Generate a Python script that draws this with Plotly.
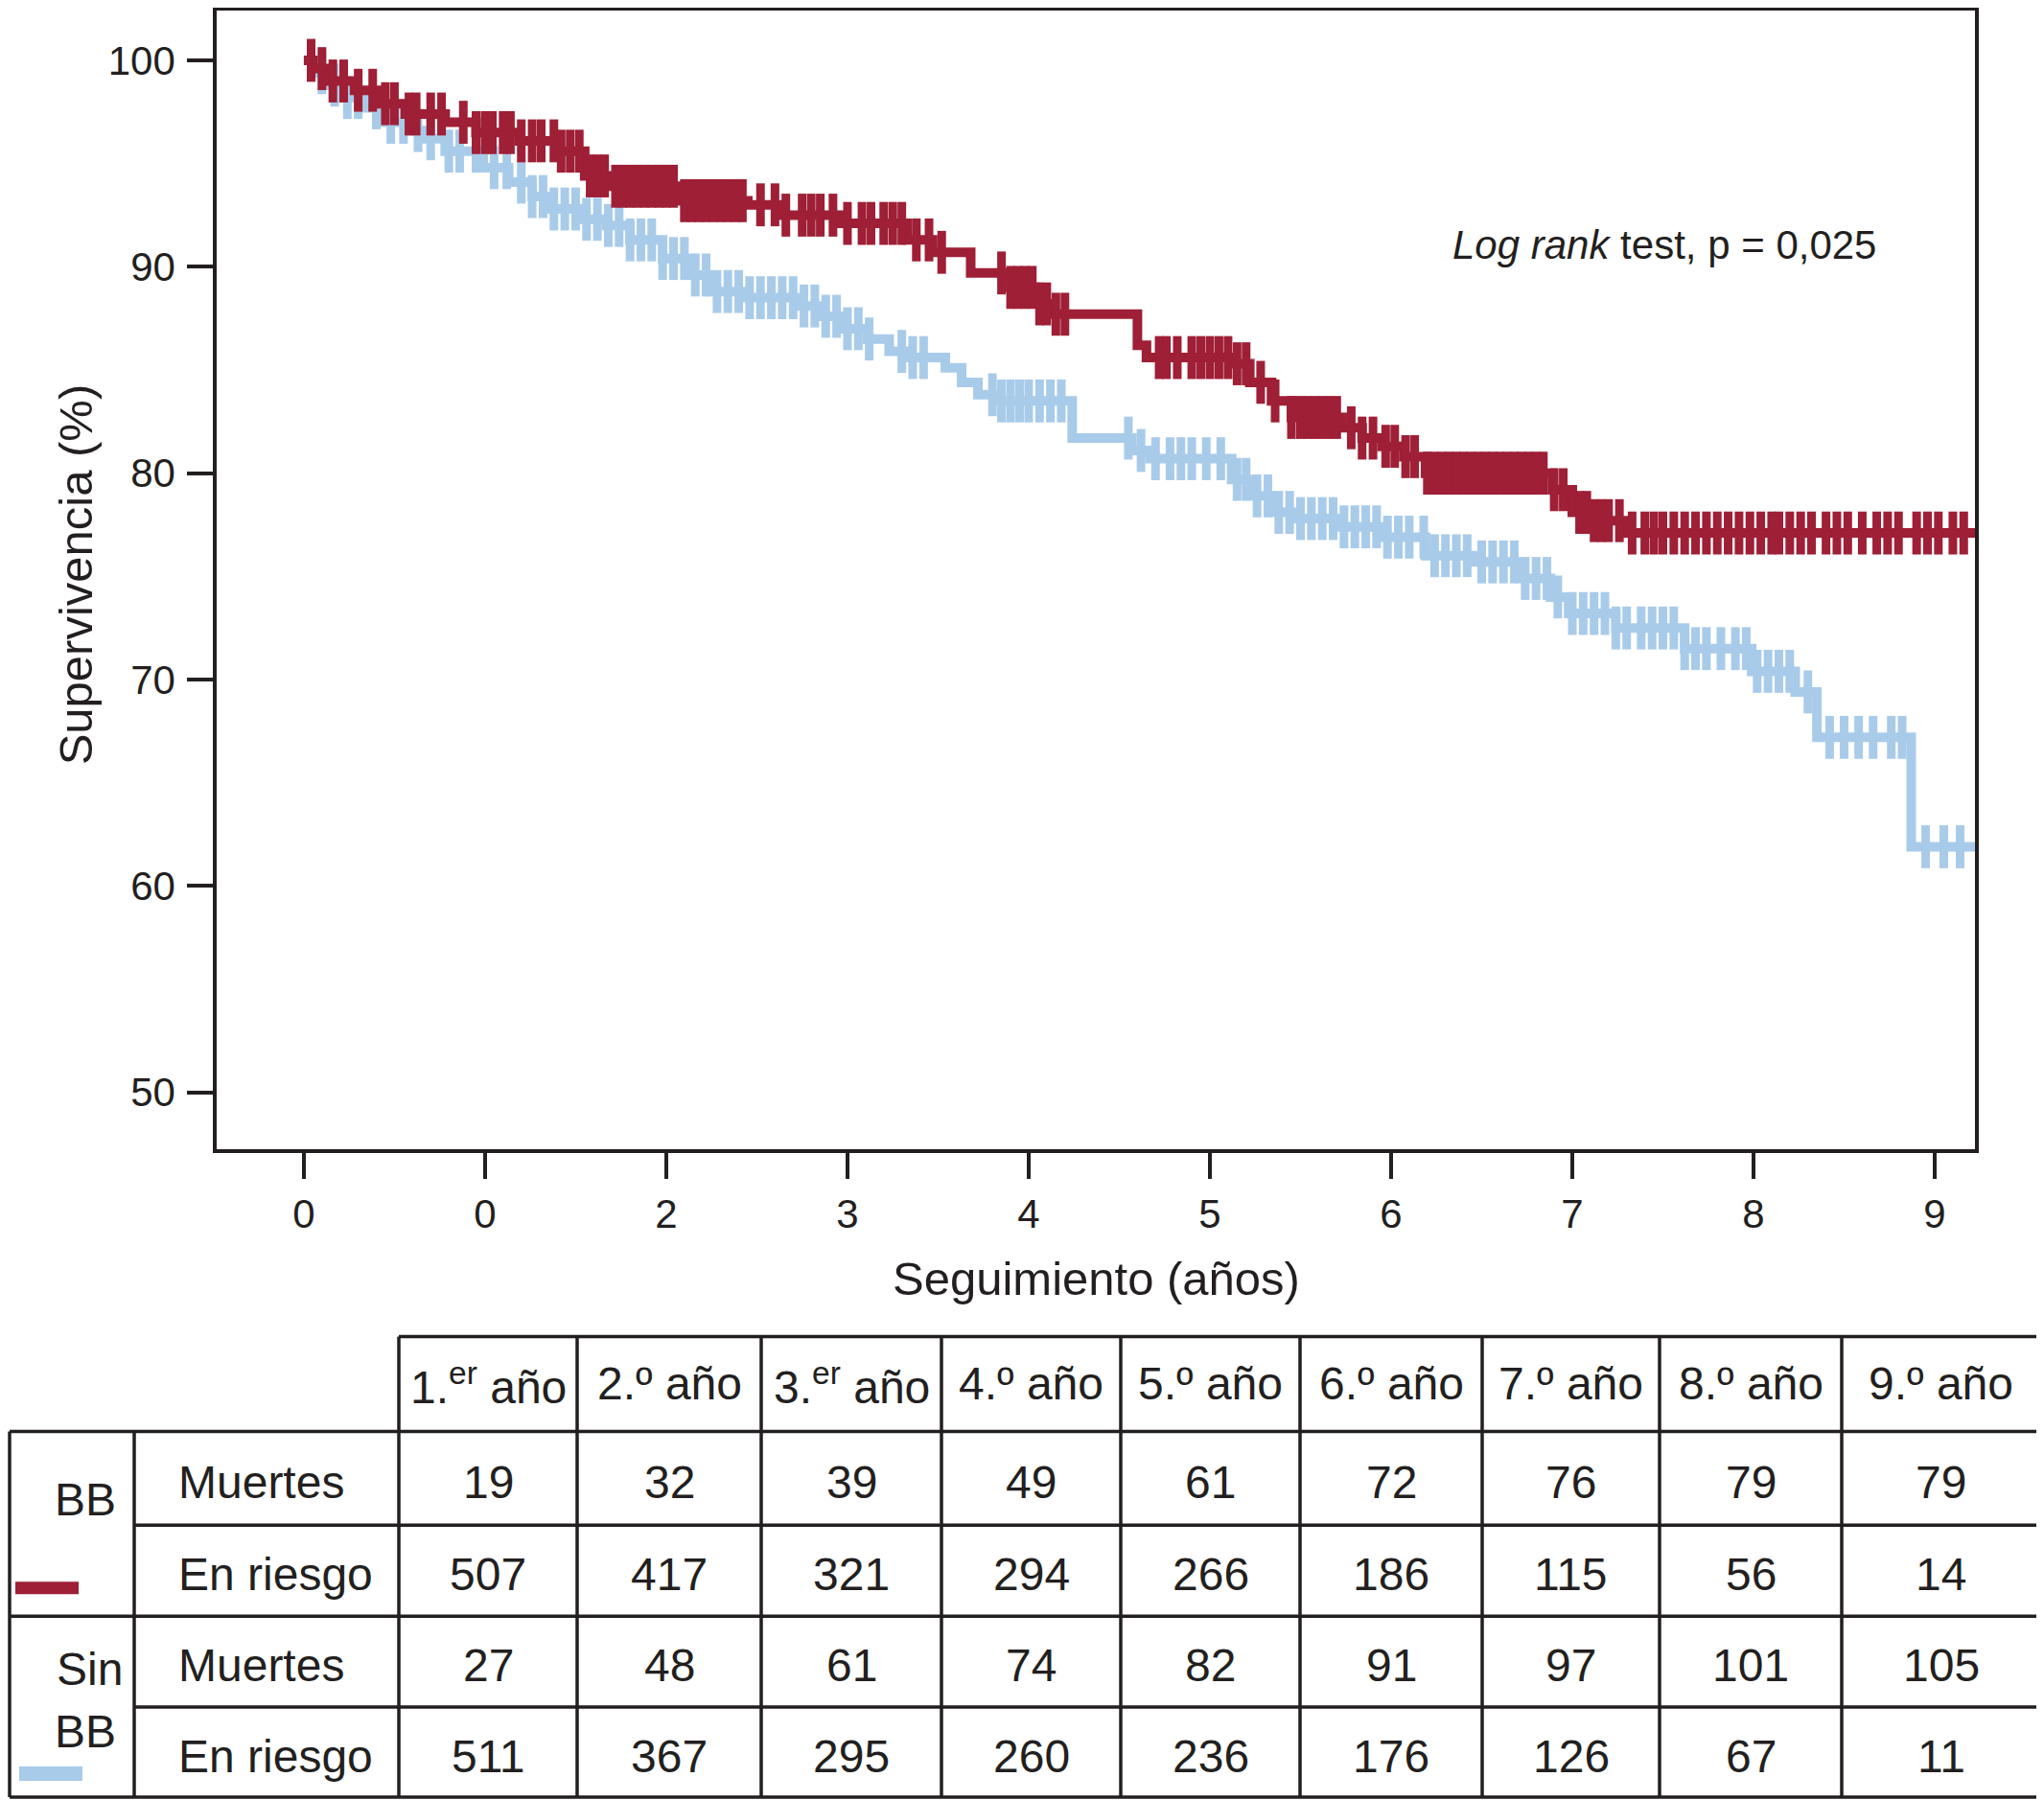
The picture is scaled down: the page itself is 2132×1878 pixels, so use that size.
import bisect
import plotly.graph_objects as go

# ---------------- data ----------------
# Kaplan-Meier steps (time in years, survival %)
bb_t = [0, 0.05, 0.12, 0.28, 0.42, 0.56, 0.78, 0.95, 1.19, 1.39, 1.55, 1.69, 2.06, 2.45, 2.64,
        2.96, 3.33, 3.47, 3.68, 3.9, 4.04, 4.14, 4.6, 4.65, 5.12, 5.22, 5.34, 5.45, 5.73, 5.84,
        5.95, 6.07, 6.19, 6.89, 7.0, 7.1, 7.29, 9.25]
bb_s = [100, 99.6, 99.0, 98.55, 97.9, 97.4, 97.0, 96.5, 96.1, 95.6, 94.4, 93.9, 93.2, 93.0, 92.5,
        92.1, 91.3, 90.7, 89.7, 89.0, 88.2, 87.7, 86.2, 85.6, 85.3, 84.4, 83.5, 82.7, 82.2, 81.7,
        81.3, 80.8, 80.0, 79.2, 78.1, 77.7, 77.1, 77.1]

sbb_t = [0, 0.06, 0.15, 0.21, 0.35, 0.45, 0.56, 0.67, 0.78, 0.99, 1.13, 1.26, 1.36, 1.53, 1.67,
         1.80, 1.98, 2.14, 2.24, 2.42, 2.73, 2.86, 2.98, 3.11, 3.23, 3.33, 3.54, 3.63, 3.72, 3.83,
         4.24, 4.57, 4.67, 5.12, 5.24, 5.34, 5.45, 5.71, 5.95, 6.19, 6.45, 6.71, 6.88, 6.98, 7.24,
         7.62, 7.99, 8.23, 8.35, 8.87, 9.26]
sbb_s = [100, 99.4, 98.8, 98.2, 97.7, 97.0, 96.6, 96.2, 95.6, 94.8, 94.1, 93.4, 92.8, 92.3, 92.0,
         91.3, 90.4, 89.6, 88.8, 88.5, 88.1, 87.6, 87.0, 86.5, 85.9, 85.6, 85.1, 84.4, 83.8, 83.5,
         81.7, 81.1, 80.7, 79.7, 78.9, 78.1, 77.8, 77.4, 76.9, 76.0, 75.7, 74.9, 74.0, 73.2, 72.5,
         71.5, 70.4, 69.4, 67.2, 61.9, 61.9]

# censored observations (years)
bb_cens = [0.04, 0.1, 0.16, 0.22, 0.3, 0.38, 0.45, 0.5, 0.58, 0.62, 0.7, 0.76, 0.88, 0.95, 1.0,
           1.04, 1.1, 1.14, 1.2, 1.26, 1.31, 1.38, 1.42, 1.47, 1.52, 1.58, 1.62, 1.66, 1.72, 1.76,
           1.8, 1.84, 1.88, 1.92, 1.96, 2.0, 2.04, 2.1, 2.14, 2.18, 2.22, 2.26, 2.3, 2.34, 2.38,
           2.42, 2.52, 2.6, 2.66, 2.75, 2.8, 2.85, 2.92, 3.0, 3.08, 3.13, 3.2, 3.25, 3.3, 3.38,
           3.45, 3.52, 3.85, 3.9, 3.94, 3.98, 4.02, 4.06, 4.1, 4.15, 4.2, 4.72, 4.76, 4.82, 4.9,
           4.95, 5.0, 5.05, 5.1, 5.15, 5.2, 5.28, 5.36, 5.45, 5.5, 5.54, 5.58, 5.62, 5.66, 5.7,
           5.78, 5.84, 5.9, 5.97, 6.02, 6.08, 6.13, 6.2, 6.24, 6.28, 6.32, 6.36, 6.4, 6.44, 6.48,
           6.52, 6.56, 6.6, 6.64, 6.68, 6.72, 6.76, 6.8, 6.84, 6.9, 6.95, 7.04, 7.08, 7.12, 7.16,
           7.2, 7.26, 7.33, 7.4, 7.45, 7.5, 7.56, 7.62, 7.68, 7.74, 7.8, 7.86, 7.92, 7.98, 8.04,
           8.1, 8.14, 8.2, 8.26, 8.32, 8.4, 8.46, 8.52, 8.6, 8.68, 8.74, 8.8, 8.9, 8.96, 9.02,
           9.1, 9.16]
sbb_cens = [0.1, 0.17, 0.24, 0.3, 0.4, 0.48, 0.55, 0.63, 0.7, 0.8, 0.86, 0.95, 1.05, 1.12, 1.2,
            1.26, 1.32, 1.38, 1.44, 1.5, 1.56, 1.62, 1.68, 1.74, 1.8, 1.86, 1.92, 1.98, 2.04, 2.1,
            2.16, 2.22, 2.28, 2.34, 2.4, 2.46, 2.52, 2.58, 2.64, 2.7, 2.76, 2.82, 2.88, 2.94, 3.0,
            3.06, 3.12, 3.3, 3.36, 3.42, 3.8, 3.85, 3.9, 3.95, 4.0, 4.06, 4.12, 4.18, 4.55, 4.62,
            4.7, 4.78, 4.84, 4.9, 4.98, 5.06, 5.15, 5.2, 5.26, 5.32, 5.38, 5.44, 5.5, 5.56, 5.62,
            5.68, 5.74, 5.8, 5.86, 5.92, 5.98, 6.04, 6.1, 6.18, 6.24, 6.3, 6.36, 6.42, 6.5, 6.56,
            6.62, 6.68, 6.74, 6.8, 6.86, 6.92, 7.0, 7.06, 7.12, 7.18, 7.24, 7.3, 7.38, 7.44, 7.5,
            7.56, 7.62, 7.68, 7.74, 7.82, 7.9, 7.96, 8.02, 8.08, 8.14, 8.2, 8.3, 8.42, 8.5, 8.58,
            8.66, 8.76, 8.82, 8.95, 9.05, 9.14]

x_tick_vals = [0, 1, 2, 3, 4, 5, 6, 7, 8, 9]
x_tick_text = ["0", "0", "2", "3", "4", "5", "6", "7", "8", "9"]
y_tick_vals = [50, 60, 70, 80, 90, 100]

year_labels = ["1.<sup>er</sup> año", "2.º año", "3.<sup>er</sup> año", "4.º año", "5.º año",
               "6.º año", "7.º año", "8.º año", "9.º año"]
bb_deaths = [19, 32, 39, 49, 61, 72, 76, 79, 79]
bb_risk = [507, 417, 321, 294, 266, 186, 115, 56, 14]
sbb_deaths = [27, 48, 61, 74, 82, 91, 97, 101, 105]
sbb_risk = [511, 367, 295, 260, 236, 176, 126, 67, 11]

# ---------------- style ----------------
OFF = 8                      # page body margin of the html page
W, H = 2132 - OFF, 1878 - OFF
RED = "#9E1F36"
BLUE = "#A9CBEA"
INK = "#231F20"
FONT = "Liberation Sans, Arial, Helvetica, sans-serif"


def px(x):
    return (x - OFF) / W


def py(y):
    return 1 - (y - OFF) / H


def step_value(ts, ss, t):
    i = bisect.bisect_right(ts, t) - 1
    return ss[max(i, 0)]


fig = go.Figure()

for ts, ss, cens, col, name in [(sbb_t, sbb_s, sbb_cens, BLUE, "Sin BB"),
                                (bb_t, bb_s, bb_cens, RED, "BB")]:
    fig.add_trace(go.Scatter(x=ts, y=ss, mode="lines", line=dict(color=col, width=10, shape="hv"),
                             name=name, showlegend=False, cliponaxis=False))
    fig.add_trace(go.Scatter(x=cens, y=[step_value(ts, ss, c) for c in cens], mode="markers",
                             marker=dict(symbol="line-ns-open", size=32, color=col,
                                         line=dict(width=9, color=col)),
                             showlegend=False, cliponaxis=False))

axis_common = dict(showline=True, linewidth=3.5, linecolor=INK, mirror=True, showgrid=False,
                   zeroline=False, ticks="outside", tickwidth=3.5, tickcolor=INK,
                   tickfont=dict(family=FONT, size=42, color=INK))

fig.update_layout(
    width=W, height=H, margin=dict(l=0, r=0, t=0, b=0),
    paper_bgcolor="white", plot_bgcolor="white",
    font=dict(family=FONT, color=INK),
    xaxis=dict(range=[-0.481, 9.222], tickvals=x_tick_vals, ticktext=x_tick_text,
               ticklen=28, ticklabelstandoff=0, domain=[px(226), px(2060)], **axis_common),
    yaxis=dict(range=[47.26, 102.39], tickvals=y_tick_vals, ticklen=27, ticklabelstandoff=4,
               domain=[py(1198), py(9.5)], **axis_common),
)

ann = []


def text(t, x, y, size, xanchor="center", angle=0):
    ann.append(dict(text=t, x=px(x), y=py(y), xref="paper", yref="paper", xanchor=xanchor,
                    yanchor="middle", textangle=angle, showarrow=False,
                    font=dict(size=size, family=FONT, color=INK)))


text("Supervivencia (%)", 79, 598, 49, angle=-90)
text("Seguimiento (años)", 1143, 1333, 49)
text("<i>Log rank</i> test, p = 0,025", 1513, 254, 42, xanchor="left")

# ---------------- table ----------------
col_edges = [416, 602, 794, 982, 1169, 1356, 1546, 1731, 1921, 2128]
row_edges = [1394, 1493, 1591, 1686, 1781, 1875]
LEFT = 10
shapes = []


def hline(y, x0, x1):
    shapes.append(dict(type="line", xref="paper", yref="paper", x0=px(x0), x1=px(x1),
                       y0=py(y), y1=py(y), line=dict(color=INK, width=3.5)))


def vline(x, y0, y1):
    shapes.append(dict(type="line", xref="paper", yref="paper", x0=px(x), x1=px(x),
                       y0=py(y0), y1=py(y1), line=dict(color=INK, width=3.5)))


hline(row_edges[0], col_edges[0], col_edges[-1])
hline(row_edges[1], LEFT, col_edges[-1])
hline(row_edges[2], 140, col_edges[-1])
hline(row_edges[3], LEFT, col_edges[-1])
hline(row_edges[4], 140, col_edges[-1])
hline(row_edges[5], LEFT, col_edges[-1])
vline(LEFT, row_edges[1], row_edges[5])
vline(140, row_edges[1], row_edges[5])
for cx in col_edges:
    vline(cx, row_edges[0], row_edges[5])

# colour swatches
shapes.append(dict(type="rect", xref="paper", yref="paper", x0=px(16), x1=px(82), y0=py(1663),
                   y1=py(1650), fillcolor=RED, line=dict(width=0)))
shapes.append(dict(type="rect", xref="paper", yref="paper", x0=px(20), x1=px(86), y0=py(1858),
                   y1=py(1843), fillcolor=BLUE, line=dict(width=0)))

centers_x = [(col_edges[i] + col_edges[i + 1]) / 2 for i in range(len(col_edges) - 1)]
centers_y = [(row_edges[i] + row_edges[i + 1]) / 2 + 4 for i in range(len(row_edges) - 1)]

for cx, lab in zip(centers_x, year_labels):
    text(lab, cx, centers_y[0] - 4, 48)
for r, vals in enumerate([bb_deaths, bb_risk, sbb_deaths, sbb_risk]):
    for cx, v in zip(centers_x, vals):
        text(str(v), cx, centers_y[r + 1], 48)
    text(["Muertes", "En riesgo"][r % 2], 184, centers_y[r + 1], 48, xanchor="left")

text("BB", 89, 1564, 48)
text("Sin", 93, 1741, 48)
text("BB", 89, 1806, 48)

fig.update_layout(annotations=ann, shapes=shapes)
fig.write_html("out.html")
